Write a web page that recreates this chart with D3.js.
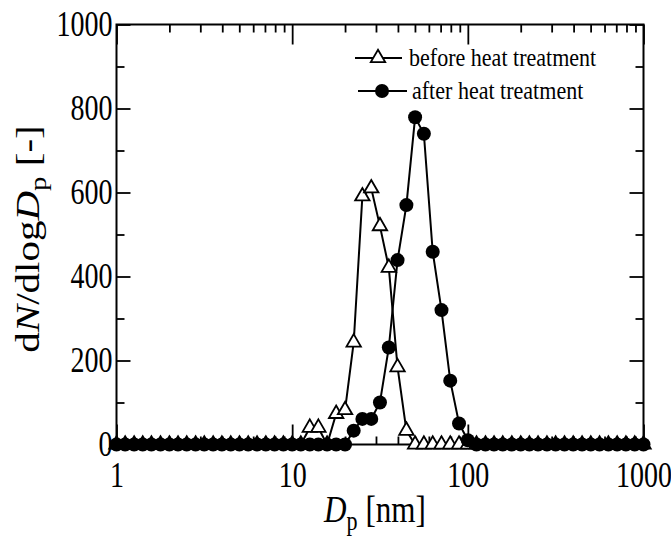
<!DOCTYPE html>
<html>
<head>
<meta charset="utf-8">
<script src="https://cdn.jsdelivr.net/npm/d3@7"></script>
<style>
  html, body { margin: 0; padding: 0; background: #fff; }
  svg { display: block; }
  text { font-family: "Liberation Serif", "Times New Roman", serif; fill: #000; }
</style>
</head>
<body>
<svg id="chart" width="671" height="543"></svg>
<script>
// Particle diameter channels [nm] (20 per decade)
const diameters = [
  1.00, 1.12, 1.26, 1.41, 1.58, 1.78, 2.00, 2.24, 2.51, 2.82,
  3.16, 3.55, 3.98, 4.47, 5.01, 5.62, 6.31, 7.08, 7.94, 8.91,
  10.0, 11.2, 12.6, 14.1, 15.8, 17.8, 20.0, 22.4, 25.1, 28.2,
  31.6, 35.5, 39.8, 44.7, 50.1, 56.2, 63.1, 70.8, 79.4, 89.1,
  100, 112, 126, 141, 158, 178, 200, 224, 251, 282,
  316, 355, 398, 447, 501, 562, 631, 708, 794, 891,
  1000
];

// dN/dlogDp before heat treatment
const beforeHeat = [
  0, 0, 0, 0, 0, 0, 0, 0, 0, 0,
  0, 0, 0, 0, 0, 0, 0, 0, 0, 0,
  0, 0, 40, 40, 0, 73, 82, 243, 591, 610,
  520, 421, 184, 33, 0, 0, 0, 0, 0, 0,
  0, 0, 0, 0, 0, 0, 0, 0, 0, 0,
  0, 0, 0, 0, 0, 0, 0, 0, 0, 0,
  0
];

// dN/dlogDp after heat treatment
const afterHeat = [
  0, 0, 0, 0, 0, 0, 0, 0, 0, 0,
  0, 0, 0, 0, 0, 0, 0, 0, 0, 0,
  0, 0, 0, 0, 0, 0, 0, 33, 61, 61,
  100, 231, 439, 570, 779, 740, 459, 320, 152, 50,
  10, 0, 0, 0, 0, 0, 0, 0, 0, 0,
  0, 0, 0, 0, 0, 0, 0, 0, 0, 0,
  0
];

const xMajorTicks = [1, 10, 100, 1000];
const xTickLabels = ["1", "10", "100", "1000"];
const yMajorTicks = [0, 200, 400, 600, 800, 1000];
const yMinorTicks = [100, 300, 500, 700, 900];
const seriesNames = ["before heat treatment", "after heat treatment"];

const svg = d3.select("#chart");
const plotL = 116.5, plotR = 643.5, plotT = 24.5, plotB = 444.5;
// the typeface is set narrow: glyphs are squeezed horizontally
const squeeze = 0.8;

const x = d3.scaleLog().domain([1, 1000]).range([plotL, plotR]);
const y = d3.scaleLinear().domain([0, 1000]).range([plotB, plotT]);

// log minor ticks: 2..9 within each decade
const xMinorTicks = [];
[1, 10, 100].forEach(d => { for (let m = 2; m <= 9; m++) xMinorTicks.push(d * m); });

const tickStroke = 1.8;
function styleAxis(g) {
  g.select(".domain").remove();
  g.selectAll(".tick line").attr("stroke", "#000").attr("stroke-width", tickStroke);
}
function styleLabels(g) {
  g.selectAll("text")
    .attr("font-size", 35)
    .attr("font-family", "Liberation Serif, Times New Roman, serif")
    .attr("transform", `scale(${squeeze},1)`);
}

// bottom axis with labels
svg.append("g")
  .attr("transform", `translate(0,${plotB})`)
  .call(d3.axisBottom(x).tickValues(xMajorTicks)
    .tickFormat((d, i) => xTickLabels[i])
    .tickSizeInner(-20).tickSizeOuter(0).tickPadding(18))
  .call(styleAxis)
  .call(styleLabels);
svg.append("g")
  .attr("transform", `translate(0,${plotB})`)
  .call(d3.axisBottom(x).tickValues(xMinorTicks).tickFormat("").tickSizeInner(-8).tickSizeOuter(0))
  .call(styleAxis);

// top axis
svg.append("g")
  .attr("transform", `translate(0,${plotT})`)
  .call(d3.axisTop(x).tickValues(xMajorTicks).tickFormat("").tickSizeInner(-20).tickSizeOuter(0))
  .call(styleAxis);
svg.append("g")
  .attr("transform", `translate(0,${plotT})`)
  .call(d3.axisTop(x).tickValues(xMinorTicks).tickFormat("").tickSizeInner(-8).tickSizeOuter(0))
  .call(styleAxis);

// left axis with labels
svg.append("g")
  .attr("transform", `translate(${plotL},0)`)
  .call(d3.axisLeft(y).tickValues(yMajorTicks).tickFormat(d3.format("d"))
    .tickSizeInner(-14).tickSizeOuter(0).tickPadding(5))
  .call(styleAxis)
  .call(styleLabels);
svg.append("g")
  .attr("transform", `translate(${plotL},0)`)
  .call(d3.axisLeft(y).tickValues(yMinorTicks).tickFormat("").tickSizeInner(-8).tickSizeOuter(0))
  .call(styleAxis);

// right axis
svg.append("g")
  .attr("transform", `translate(${plotR},0)`)
  .call(d3.axisRight(y).tickValues(yMajorTicks).tickFormat("").tickSizeInner(-14).tickSizeOuter(0))
  .call(styleAxis);
svg.append("g")
  .attr("transform", `translate(${plotR},0)`)
  .call(d3.axisRight(y).tickValues(yMinorTicks).tickFormat("").tickSizeInner(-8).tickSizeOuter(0))
  .call(styleAxis);

// frame
svg.append("rect")
  .attr("x", plotL).attr("y", plotT)
  .attr("width", plotR - plotL).attr("height", plotB - plotT)
  .attr("fill", "none").attr("stroke", "#000").attr("stroke-width", 2);

// data series
const line = d3.line().x(d => x(d[0])).y(d => y(d[1]));
const triangle = d3.symbol().type(d3.symbolTriangle).size(90);
const circleR = 7;

const beforePts = diameters.map((d, i) => [d, beforeHeat[i]]);
const afterPts = diameters.map((d, i) => [d, afterHeat[i]]);

svg.append("path").datum(beforePts)
  .attr("d", line).attr("fill", "none").attr("stroke", "#000").attr("stroke-width", 2);
svg.append("g").selectAll("path").data(beforePts).join("path")
  .attr("d", triangle)
  .attr("transform", d => `translate(${x(d[0])},${y(d[1])})`)
  .attr("fill", "#fff").attr("stroke", "#000").attr("stroke-width", 1.8);

svg.append("path").datum(afterPts)
  .attr("d", line).attr("fill", "none").attr("stroke", "#000").attr("stroke-width", 2);
svg.append("g").selectAll("circle").data(afterPts).join("circle")
  .attr("cx", d => x(d[0])).attr("cy", d => y(d[1])).attr("r", circleR)
  .attr("fill", "#000");

// legend
const legend = svg.append("g");
legend.append("line").attr("x1", 355).attr("x2", 402).attr("y1", 58).attr("y2", 58)
  .attr("stroke", "#000").attr("stroke-width", 2);
legend.append("path").attr("d", triangle).attr("transform", "translate(378,58)")
  .attr("fill", "#fff").attr("stroke", "#000").attr("stroke-width", 1.8);
legend.append("text").attr("transform", "translate(409,66) scale(0.9,1)")
  .attr("font-size", 24.5).text(seriesNames[0]);

legend.append("line").attr("x1", 358).attr("x2", 407).attr("y1", 91).attr("y2", 91)
  .attr("stroke", "#000").attr("stroke-width", 2);
legend.append("circle").attr("cx", 382).attr("cy", 91).attr("r", circleR).attr("fill", "#000");
legend.append("text").attr("transform", "translate(412,99) scale(0.9,1)")
  .attr("font-size", 24.5).text(seriesNames[1]);

// x-axis title: D_p [nm]
const xt = svg.append("text")
  .attr("transform", `translate(${(plotL + plotR) / 2 - 5},522) scale(0.82,1)`)
  .attr("text-anchor", "middle").attr("font-size", 38);
xt.append("tspan").attr("font-style", "italic").text("D");
xt.append("tspan").attr("font-size", 27).attr("dy", 8).text("p");
xt.append("tspan").attr("dy", -8).text(" [nm]");

// y-axis title: dN/dlogD_p [-]
const yt = svg.append("text")
  .attr("transform", `translate(39,239) rotate(-90) scale(1,0.82)`)
  .attr("text-anchor", "middle").attr("font-size", 41);
yt.append("tspan").text("d");
yt.append("tspan").attr("font-style", "italic").text("N");
yt.append("tspan").text("/dlog");
yt.append("tspan").attr("font-style", "italic").text("D");
yt.append("tspan").attr("font-size", 29).attr("dy", 9).text("p");
yt.append("tspan").attr("dy", -9).text(" [-]");
</script>
</body>
</html>
